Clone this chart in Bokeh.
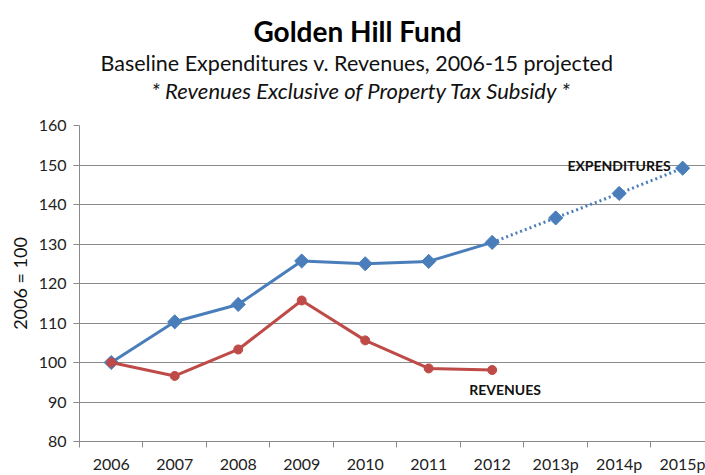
import math
from bokeh.plotting import figure
from bokeh.layouts import column
from bokeh.models import FixedTicker, Label, Range1d
from bokeh.core.properties import value
from bokeh.embed import file_html
from bokeh.resources import INLINE

categories = ["2006", "2007", "2008", "2009", "2010", "2011", "2012", "2013p", "2014p", "2015p"]
expenditures = [100.0, 110.3, 114.7, 125.7, 125.0, 125.6, 130.4, 136.6, 142.8, 149.2]
revenues = [100.0, 96.6, 103.3, 115.7, 105.6, 98.5, 98.1]
y_ticks = [80, 90, 100, 110, 120, 130, 140, 150, 160]
n_actual = 7  # 2006-2012 actual, later years projected

title_lines = ["Golden Hill Fund",
               "Baseline Expenditures  v. Revenues,  2006-15 projected",
               "* Revenues Exclusive of Property Tax Subsidy *"]

FONT = "Lato"
BLUE = "#4a7ebb"
RED = "#be4b48"
GRID = "#8a8a8a"
LEFT = 79

xs = list(range(len(categories)))

# ---- title block (x in canvas pixels) ----
t = figure(width=705, height=110, x_range=Range1d(LEFT, 705), y_range=Range1d(0, 110),
           min_border_left=LEFT, min_border_right=0, min_border_top=0, min_border_bottom=0,
           toolbar_location=None, output_backend="svg")
t.axis.visible = False
t.grid.visible = False
t.outline_line_color = None
t.text(x=[357], y=[80], text=[title_lines[0]], text_align="center", text_baseline="middle",
       text_font=value(FONT), text_font_size="28px", text_font_style="bold", text_color="#000000")
t.text(x=[362], y=[48], text=[title_lines[1]], text_align="center", text_baseline="middle",
       text_font=value(FONT), text_font_size="21.5px", text_color="#111111")
t.text(x=[361], y=[20], text=[title_lines[2]], text_align="center", text_baseline="middle",
       text_font=value(FONT), text_font_size="22px", text_font_style="italic", text_color="#111111")

# ---- chart ----
p = figure(width=705, height=365, x_range=Range1d(-0.5, 9.36), y_range=Range1d(80, 160),
           min_border_left=LEFT, min_border_right=0, min_border_top=15, min_border_bottom=28,
           toolbar_location=None, output_backend="svg")
p.outline_line_color = None
p.xgrid.visible = False
p.ygrid.ticker = FixedTicker(ticks=y_ticks)
p.ygrid.grid_line_color = GRID
p.ygrid.grid_line_width = 1

xa = p.xaxis[0]
xa.ticker = FixedTicker(ticks=xs, minor_ticks=[i - 0.5 for i in range(len(categories) + 1)])
xa.major_label_overrides = {i: c for i, c in enumerate(categories)}
xa.major_tick_out = 0
xa.major_tick_in = 0
xa.minor_tick_out = 6
xa.minor_tick_in = 0
xa.minor_tick_line_color = GRID
xa.axis_line_color = GRID
xa.major_label_text_font = FONT
xa.major_label_text_font_size = "16px"
xa.major_label_text_color = "#222222"
xa.major_label_standoff = 6

ya = p.yaxis[0]
ya.ticker = FixedTicker(ticks=y_ticks)
ya.major_tick_out = 6
ya.major_tick_in = 0
ya.minor_tick_out = 0
ya.minor_tick_in = 0
ya.major_tick_line_color = GRID
ya.axis_line_color = GRID
ya.major_label_text_font = FONT
ya.major_label_text_font_size = "16px"
ya.major_label_text_color = "#222222"
ya.major_label_standoff = 7
ya.axis_label = "2006 = 100"
ya.axis_label_text_font = FONT
ya.axis_label_text_font_size = "18px"
ya.axis_label_text_font_style = "normal"
ya.axis_label_text_color = "#111111"
ya.axis_label_standoff = 5

# Expenditures: solid actual, dotted projection
p.line(xs[:n_actual], expenditures[:n_actual], line_color=BLUE, line_width=3)
p.line(xs[n_actual - 1:], expenditures[n_actual - 1:], line_color=BLUE, line_width=3,
       line_dash="2 3")
p.scatter(xs, expenditures, marker="square", angle=math.pi / 4, size=10,
          fill_color=BLUE, line_color=BLUE)

# Revenues
rx = xs[:len(revenues)]
p.line(rx, revenues, line_color=RED, line_width=3)
p.scatter(rx, revenues, marker="circle", size=9, fill_color=RED, line_color=RED)

# Series labels
p.add_layout(Label(x=xs[-1], y=expenditures[-1], text="EXPENDITURES", x_offset=-12, y_offset=3,
                   text_align="right", text_baseline="middle", text_font=FONT,
                   text_font_size="14px", text_font_style="bold", text_color="#111111"))
p.add_layout(Label(x=xs[len(revenues) - 1], y=revenues[-1], text="REVENUES", x_offset=-23, y_offset=-19,
                   text_align="left", text_baseline="middle", text_font=FONT,
                   text_font_size="14px", text_font_style="bold", text_color="#111111"))

open("out.html", "w").write(file_html(column(t, p, spacing=0), INLINE))
